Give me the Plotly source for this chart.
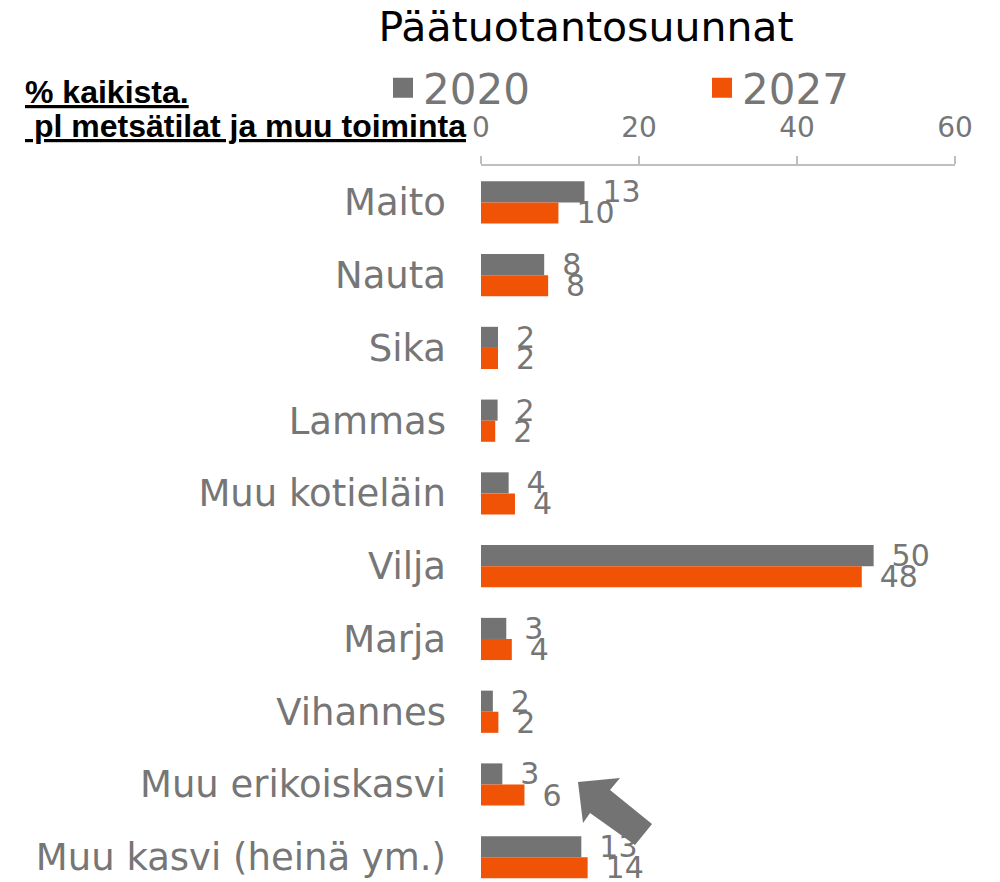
import plotly.graph_objects as go

categories = ["Maito", "Nauta", "Sika", "Lammas", "Muu kotieläin", "Vilja",
              "Marja", "Vihannes", "Muu erikoiskasvi", "Muu kasvi (heinä ym.)"]
values_2020 = [13.1, 8.0, 2.15, 2.1, 3.5, 49.7, 3.2, 1.5, 2.7, 12.7]
values_2027 = [9.8, 8.5, 2.15, 1.8, 4.3, 48.2, 3.9, 2.2, 5.5, 13.5]
labels_2020 = ["13", "8", "2", "2", "4", "50", "3", "2", "3", "13"]
labels_2027 = ["10", "8", "2", "2", "4", "48", "4", "2", "6", "14"]
series_names = ["2020", "2027"]
x_ticks = [0, 20, 40, 60]

GRAY = "#737373"
ORANGE = "#f05206"
TXT = "#767676"
FONT = "DejaVu Sans"

W, H = 1000, 882
L, R, T, B = 481, 45, 166, 0
PW, PH = W - L - R, H - T - B
BAR_W = 0.29


def px(x):
    return (x - L) / PW


def py(y):
    return (H - B - y) / PH


fig = go.Figure()
for name, vals, labs, col, off in [
    (series_names[0], values_2020, labels_2020, GRAY, -BAR_W),
    (series_names[1], values_2027, labels_2027, ORANGE, 0.0),
]:
    fig.add_trace(go.Bar(
        name=name, y=categories, x=vals, orientation="h",
        width=BAR_W, offset=off, showlegend=False, legendgroup=name,
        marker=dict(color=col, line=dict(width=0)),
        text=labs, texttemplate="\u2009\u2009\u200a%{text}", textposition="outside",
        textfont=dict(family=FONT, size=30, color=TXT), constraintext="none",
        cliponaxis=False, hoverinfo="skip",
    ))
# legend entries (no data, larger square legend swatch)
for name, col in [(series_names[0], GRAY), (series_names[1], ORANGE)]:
    fig.add_trace(go.Scatter(
        name=name, y=[None], x=[None], mode="markers", legendgroup=name,
        marker=dict(symbol="square", size=24, color=col,
                    line=dict(width=4, color=col)),
        showlegend=True, hoverinfo="skip",
    ))

# decorative arrow (pixel outline converted to paper coords)
arrow_px = [(578, 782), (620, 778), (610, 790), (652, 824), (635, 845),
            (590, 813), (583, 823)]
path = "M " + " L ".join(f"{px(a):.4f},{py(b):.4f}" for a, b in arrow_px) + " Z"
fig.add_shape(type="path", xref="paper", yref="paper", path=path,
              fillcolor="#737373", line=dict(width=0), layer="above")

fig.add_annotation(xref="paper", yref="paper", x=px(23), y=py(92),
                   xanchor="left", yanchor="middle", showarrow=False,
                   text="<b><u>% kaikista.</u></b>",
                   font=dict(family="Liberation Sans", size=32, color="black"))
fig.add_annotation(xref="paper", yref="paper", x=px(23), y=py(126),
                   xanchor="left", yanchor="middle", showarrow=False,
                   text="<b><u>\u00a0pl metsätilat ja muu toiminta</u></b>",
                   font=dict(family="Liberation Sans", size=32, color="black"))

fig.update_layout(
    width=W, height=H,
    margin=dict(l=L, r=R, t=T, b=B, pad=0, autoexpand=False),
    plot_bgcolor="white", paper_bgcolor="white",
    barmode="overlay",
    title=dict(text="Päätuotantosuunnat", x=0.586, xanchor="center",
               y=1 - 27 / H, yanchor="middle",
               font=dict(family=FONT, size=41, color="black")),
    legend=dict(orientation="h", x=px(383), xanchor="left", y=py(88),
                yanchor="middle", font=dict(family=FONT, size=42, color=TXT),
                entrywidth=274, entrywidthmode="pixels", itemsizing="trace",
                bgcolor="rgba(0,0,0,0)"),
    xaxis=dict(side="top", range=[0, 60], tickvals=x_ticks, automargin=False,
               showgrid=False, zeroline=False, showline=True,
               linecolor="#bfbfbf", linewidth=1.5, ticks="outside",
               tickcolor="#bfbfbf", ticklen=8, tickwidth=1.5,
               ticklabelstandoff=8,
               tickfont=dict(family=FONT, size=28, color=TXT)),
    yaxis=dict(type="category", categoryorder="array", categoryarray=categories,
               range=[9.34, -0.5], showgrid=False, zeroline=False,
               automargin=False, showline=False, ticks="", ticklabelstandoff=34,
               tickfont=dict(family=FONT, size=37, color=TXT)),
)

fig.write_html(
    "out.html",
    config={"displayModeBar": False},
    post_script="document.body.style.margin='0';document.body.style.overflow='hidden';",
)
